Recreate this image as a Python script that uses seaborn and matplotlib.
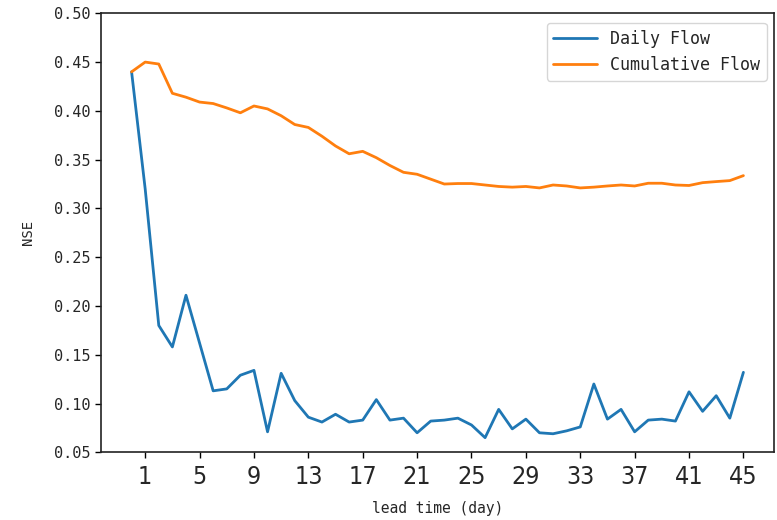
import numpy as np
import pandas as pd
import seaborn as sns
import matplotlib
matplotlib.use("Agg")
import matplotlib.pyplot as plt
from matplotlib import font_manager

# Lead time in days
lead_time = list(range(0, 46))

# NSE of daily flow forecasts
daily_flow = [0.440, 0.320, 0.180, 0.158, 0.211, 0.162, 0.113, 0.115, 0.129, 0.134,
              0.071, 0.131, 0.103, 0.086, 0.081, 0.089, 0.081, 0.083, 0.104, 0.083,
              0.085, 0.070, 0.082, 0.083, 0.085, 0.078, 0.065, 0.094, 0.074, 0.084,
              0.070, 0.069, 0.072, 0.076, 0.120, 0.084, 0.094, 0.071, 0.083, 0.084,
              0.082, 0.112, 0.092, 0.108, 0.085, 0.132]

# NSE of cumulative flow forecasts
cumulative_flow = [0.440, 0.450, 0.448, 0.418, 0.414, 0.409, 0.4075, 0.403, 0.398, 0.405,
                   0.402, 0.395, 0.386, 0.383, 0.374, 0.364, 0.356, 0.3585, 0.352, 0.344,
                   0.337, 0.335, 0.330, 0.325, 0.3255, 0.3255, 0.324, 0.3225, 0.3218, 0.3225,
                   0.321, 0.324, 0.323, 0.321, 0.3218, 0.323, 0.324, 0.323, 0.3258, 0.3258,
                   0.324, 0.3235, 0.3264, 0.3275, 0.3285, 0.3336]

x_ticks = list(range(1, 46, 4))
y_ticks = [0.05, 0.10, 0.15, 0.20, 0.25, 0.30, 0.35, 0.40, 0.45, 0.50]

sns.set_style("ticks")
plt.rcParams["font.family"] = ["DejaVu Sans Mono", "DejaVu Sans"]

# pick a narrow face for the day numbers
installed = {f.name for f in font_manager.fontManager.ttflist}
narrow_props = dict(family=["DejaVu Sans", "DejaVu Sans Mono"], fontstretch="condensed", fontsize=18)
for name in ["Liberation Sans Narrow", "Arial Narrow", "DejaVu Sans Condensed"]:
    if name in installed:
        narrow_props = dict(family=[name, "DejaVu Sans"], fontsize=20)
        break

df = pd.DataFrame({"lead": lead_time, "daily": daily_flow, "cum": cumulative_flow})

fig = plt.figure(figsize=(7.77, 5.2), dpi=100)
ax = fig.add_axes([101 / 777, (520 - 452.3) / 520, (774 - 101) / 777, (452.3 - 13.3) / 520])

sns.lineplot(data=df, x="lead", y="daily", ax=ax, color="#1f77b4", linewidth=2,
             label="Daily Flow")
sns.lineplot(data=df, x="lead", y="cum", ax=ax, color="#ff7f0e", linewidth=2,
             label="Cumulative Flow")

ax.set_xlim(-2.25, 47.25)
ax.set_ylim(0.05, 0.50)
ax.set_xticks(x_ticks)
ax.set_xticklabels([str(t) for t in x_ticks], **narrow_props)
ax.set_yticks(y_ticks)
ax.set_yticklabels([f"{t:.2f}" for t in y_ticks], fontsize=11)
ax.tick_params(axis="both", direction="out", length=4, width=1, color="black")
ax.tick_params(axis="x", pad=5)

for sp in ax.spines.values():
    sp.set_color("#222222")
    sp.set_linewidth(1.2)

ax.set_xlabel("lead time (day)", fontsize=10.5, labelpad=9)
ax.set_ylabel("NSE", fontsize=10, labelpad=14)

leg = ax.legend(loc="upper right", fontsize=12, frameon=True, handlelength=2.6,
                bbox_to_anchor=(0.989, 0.978), borderaxespad=0.0)
leg.get_frame().set_edgecolor("#cccccc")

fig.savefig("out.png", dpi=100)
